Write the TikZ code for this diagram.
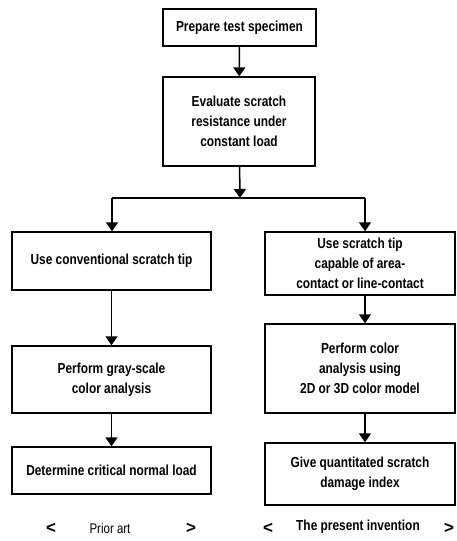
\documentclass[tikz,border=0pt]{standalone}
\usepackage{fontspec}
\setmainfont{Liberation Sans}
\newfontfamily\narrowfont[FakeStretch=0.82]{Liberation Sans}
\usepackage{tikz}
\usetikzlibrary{arrows.meta, positioning, calc}

\begin{document}
\begin{tikzpicture}[x=1pt, y=-1pt,
  stepbox/.style={draw, line width=1.4pt, inner sep=0pt, align=center,
                  font=\narrowfont\bfseries\fontsize{14.5}{20}\selectfont},
  flow/.style={-{Triangle[width=12pt, length=9pt]}, line width=1.5pt},
  tag/.style={font=\narrowfont\bfseries\fontsize{14.5}{16}\selectfont},
  bracket/.style={font=\bfseries\fontsize{17}{18}\selectfont}
]
  \useasboundingbox (0,0) rectangle (456,541);
  % common trunk
  \node[stepbox, minimum width=153pt, minimum height=37pt] (spec) at (239.5,27.5) {Prepare test specimen};
  \node[stepbox, minimum width=152pt, minimum height=89pt] (eval) at (239,121.5) {Evaluate scratch\\resistance under\\constant load};
  \coordinate (split) at (240,198);
  \coordinate (lsplit) at (112,198);
  \coordinate (rsplit) at (365,198);
  % prior art
  \node[stepbox, minimum width=199pt, minimum height=58pt] (conv) at (111.5,261) {Use conventional scratch tip};
  \node[stepbox, minimum width=199pt, minimum height=67pt] (gray) at (111.5,379.5) {Perform gray-scale\\color analysis};
  \node[stepbox, minimum width=199pt, minimum height=47pt] (load) at (111.5,470.5) {Determine critical normal load};
  % present invention
  \node[stepbox, minimum width=190pt, minimum height=63pt] (area) at (360,263.5) {Use scratch tip\\capable of area-\\contact or line-contact};
  \node[stepbox, minimum width=190pt, minimum height=89pt] (color) at (360,368.5) {Perform color\\analysis using\\2D or 3D color model};
  \node[stepbox, minimum width=190pt, minimum height=62pt] (index) at (360,474) {Give quantitated scratch\\damage index};
  % connectors
  \draw[flow] (spec) -- (eval);
  \draw[flow] (eval) -- (split);
  \draw[line width=1.5pt] (lsplit) -- (rsplit);
  \draw[flow] (lsplit) -- (lsplit |- conv.north);
  \draw[flow] (rsplit) -- (rsplit |- area.north);
  \draw[flow] (conv) -- (gray);
  \draw[flow] (gray) -- (load);
  \draw[flow] (rsplit |- area.south) -- (rsplit |- color.north);
  \draw[flow] (rsplit |- color.south) -- (rsplit |- index.north);
  % captions
  \node[bracket] (plt) at (51,528) {<};
  \node[tag, font=\narrowfont\fontsize{14}{16}\selectfont] (prior) at (110,528) {Prior art};
  \node[bracket] (pgt) at (191,528) {>};
  \node[bracket] (ilt) at (268,528) {<};
  \node[tag] (invent) at (358,527) {The present invention};
  \node[bracket] (igt) at (449,528) {>};
\end{tikzpicture}
\end{document}
